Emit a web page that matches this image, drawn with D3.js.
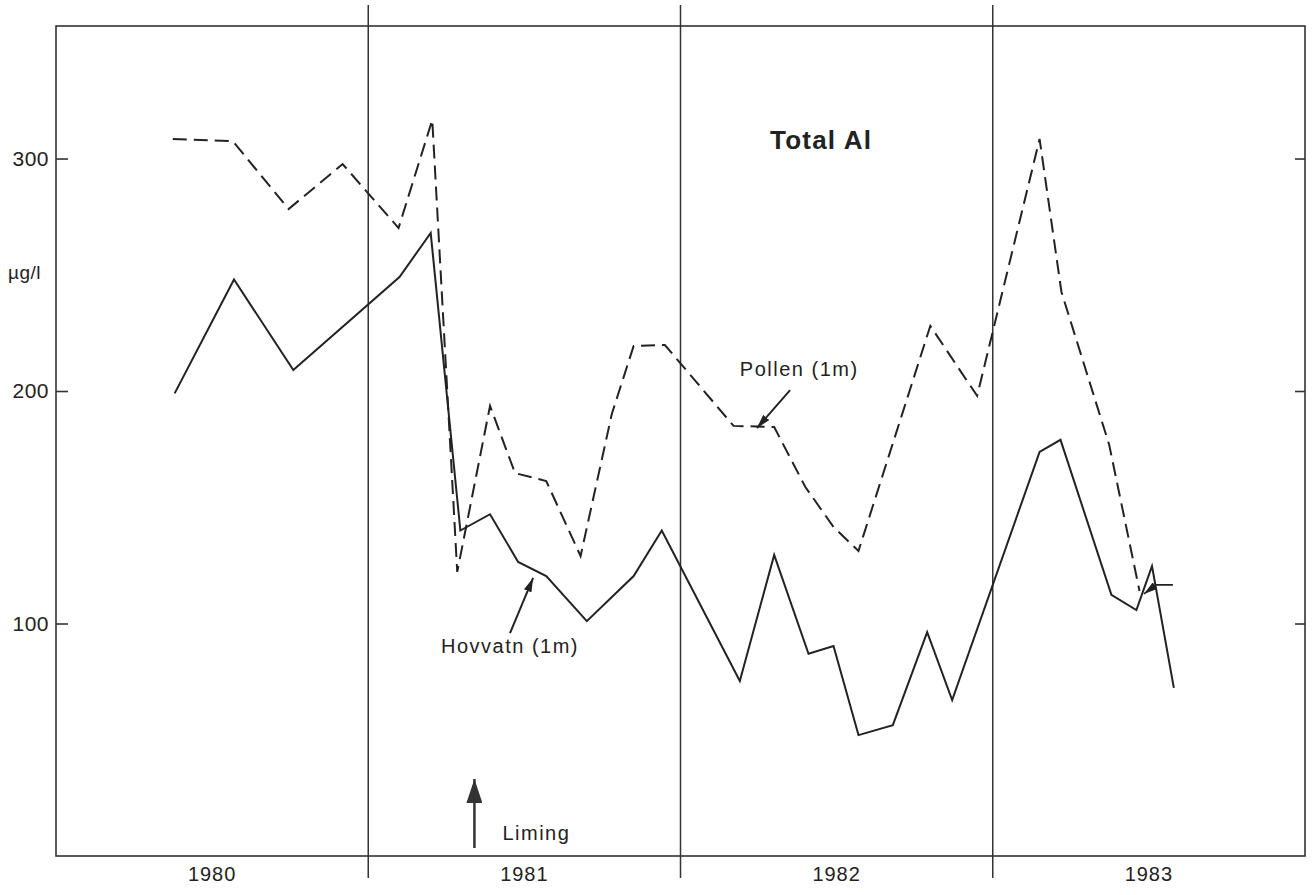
<!DOCTYPE html>
<html>
<head>
<meta charset="utf-8">
<script src="https://cdn.jsdelivr.net/npm/d3@7"></script>
<style>
  html, body { margin: 0; padding: 0; background: #fff; }
  svg { display: block; }
  text { font-family: "Liberation Sans", Arial, Helvetica, sans-serif; fill: #222; }
</style>
</head>
<body>
<svg id="chart" width="1314" height="895"></svg>
<script>
// ---- Data (decimal year, µg/l) ----
const hovvatnDates = [1980.38, 1980.57, 1980.76, 1981.10, 1981.20, 1981.295, 1981.39, 1981.48, 1981.57, 1981.70,
  1981.85, 1981.94, 1982.19, 1982.30, 1982.41, 1982.49, 1982.57, 1982.68, 1982.79, 1982.87,
  1983.15, 1983.217, 1983.38, 1983.46, 1983.51, 1983.58];
const hovvatnValues = [199, 248, 209, 249, 268, 140, 147, 126.5, 120.4, 101,
  120.4, 140, 75.3, 129.5, 87, 90.3, 52, 56.3, 96.3, 67.1,
  173.8, 179, 112.3, 105.8, 124.7, 72.3];

const pollenDates = [1980.374, 1980.566, 1980.745, 1980.918, 1981.097, 1981.205, 1981.285, 1981.39, 1981.47, 1981.57,
  1981.68, 1981.78, 1981.85, 1981.95, 1982.17, 1982.30, 1982.40, 1982.49, 1982.57, 1982.80,
  1982.95, 1983.15, 1983.22, 1983.373, 1983.47];
const pollenValues = [308.4, 307.5, 278.3, 297.6, 270.1, 316.6, 122.2, 193.6, 164.7, 161.3,
  129, 190.1, 219.4, 219.8, 185, 184.5, 158.7, 141.5, 131.2, 228,
  197.9, 308.4, 242.6, 176.8, 114];

const years = [1980, 1981, 1982, 1983];
const yTicks = [100, 200, 300];
const limingDate = 1981.34;

// ---- Layout ----
const svg = d3.select("#chart");
const L = 56, R = 1305, T = 26, B = 856;

const x = d3.scaleLinear().domain([1980, 1984]).range([L, R]);
const y = d3.scaleLinear().domain([0, 357]).range([B, T]);

const ink = "#222";

// Frame
svg.append("rect")
  .attr("x", L).attr("y", T).attr("width", R - L).attr("height", B - T)
  .attr("fill", "none").attr("stroke", "#333").attr("stroke-width", 1.6);

// Year dividers (extend beyond frame)
svg.append("g").selectAll("line").data(years.slice(1)).join("line")
  .attr("x1", d => x(d)).attr("x2", d => x(d))
  .attr("y1", T - 21).attr("y2", B + 22)
  .attr("stroke", "#333").attr("stroke-width", 1.5);

// Left axis
const leftAxis = svg.append("g").attr("transform", `translate(${L},0)`)
  .call(d3.axisLeft(y).tickValues(yTicks).tickSizeInner(-12).tickSizeOuter(0).tickPadding(7));
leftAxis.select(".domain").remove();
leftAxis.selectAll(".tick line").attr("stroke", "#333").attr("stroke-width", 1.6);
leftAxis.selectAll(".tick text")
  .style("font-family", "'Liberation Sans', Arial, sans-serif")
  .attr("font-size", 21).attr("fill", ink).attr("letter-spacing", 0.5);

// Right axis (ticks only)
const rightAxis = svg.append("g").attr("transform", `translate(${R},0)`)
  .call(d3.axisRight(y).tickValues(yTicks).tickSizeInner(-10).tickSizeOuter(0).tickFormat(""));
rightAxis.select(".domain").remove();
rightAxis.selectAll(".tick line").attr("stroke", "#333").attr("stroke-width", 1.6);

// Year labels
svg.append("g").selectAll("text").data(years).join("text")
  .attr("x", d => x(d + 0.5)).attr("y", 881)
  .attr("text-anchor", "middle").attr("font-size", 20).attr("letter-spacing", 1)
  .text(d => d);

// Unit label
svg.append("text").attr("x", 8).attr("y", 279).attr("font-size", 19).attr("letter-spacing", 0.5).text("µg/l");

// Lines
const line = d3.line().x(d => x(d[0])).y(d => y(d[1]));
const hovvatn = hovvatnDates.map((d, i) => [d, hovvatnValues[i]]);
const pollen = pollenDates.map((d, i) => [d, pollenValues[i]]);

svg.append("path").datum(hovvatn).attr("d", line)
  .attr("fill", "none").attr("stroke", ink).attr("stroke-width", 2).attr("stroke-linejoin", "miter");
svg.append("path").datum(pollen).attr("d", line)
  .attr("fill", "none").attr("stroke", ink).attr("stroke-width", 2)
  .attr("stroke-dasharray", "14,7").attr("stroke-linejoin", "miter");

// Arrowhead marker
const defs = svg.append("defs");
defs.append("marker").attr("id", "ah").attr("viewBox", "0 0 14 8")
  .attr("refX", 14).attr("refY", 4).attr("markerWidth", 14).attr("markerHeight", 8)
  .attr("markerUnits", "userSpaceOnUse").attr("orient", "auto")
  .append("path").attr("d", "M0,0 L14,4 L0,8 Z").attr("fill", ink);
defs.append("marker").attr("id", "ahBig").attr("viewBox", "0 0 24 16")
  .attr("refX", 24).attr("refY", 8).attr("markerWidth", 24).attr("markerHeight", 16)
  .attr("markerUnits", "userSpaceOnUse").attr("orient", "auto")
  .append("path").attr("d", "M0,0 L24,8 L0,16 Z").attr("fill", "#333");

// Annotations (positioned in data units)
const arrow = (pts, marker, w) => svg.append("path")
  .attr("d", d3.line().x(d => x(d[0])).y(d => y(d[1]))(pts))
  .attr("fill", "none").attr("stroke", ink).attr("stroke-width", w)
  .attr("marker-end", `url(#${marker})`);

arrow([[1981.454, 95.9], [1981.528, 119.6]], "ah", 2);
arrow([[1982.351, 200.4], [1982.245, 184.1]], "ah", 2);
arrow([[1983.577, 116.6], [1983.523, 116.6], [1983.484, 112.7]], "ah", 1.6);

svg.append("text").attr("x", x(1981.233)).attr("y", y(87.3))
  .attr("font-size", 20).attr("letter-spacing", 1.5).text("Hovvatn (1m)");
svg.append("text").attr("x", x(1982.19)).attr("y", y(206.5))
  .attr("font-size", 20).attr("letter-spacing", 1.5).text("Pollen (1m)");
svg.append("text").attr("x", x(1982.287)).attr("y", y(304.1))
  .attr("font-size", 26).attr("font-weight", "bold").attr("letter-spacing", 1.2).text("Total Al");

// Liming arrow
svg.append("line")
  .attr("x1", x(limingDate)).attr("x2", x(limingDate))
  .attr("y1", B - 8).attr("y2", B - 77)
  .attr("stroke", "#333").attr("stroke-width", 2.5)
  .attr("marker-end", "url(#ahBig)");
svg.append("text").attr("x", x(limingDate) + 28).attr("y", B - 16)
  .attr("font-size", 20).attr("letter-spacing", 1.5).text("Liming");
</script>
</body>
</html>
